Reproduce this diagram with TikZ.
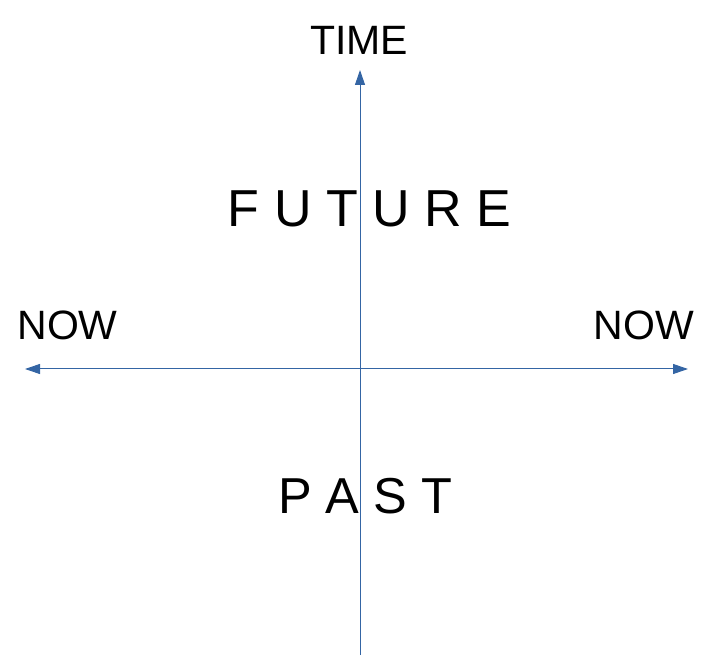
\documentclass[tikz,border=0pt]{standalone}
\usepackage{fontspec}
\setmainfont{Liberation Sans}
\usetikzlibrary{arrows.meta}
\definecolor{axisblue}{RGB}{52,101,164}
\tikzset{
  axis/.style={draw=axisblue, line width=1pt, -{Triangle[length=15pt,width=10pt]}},
  biaxis/.style={draw=axisblue, line width=1pt, {Triangle[length=15pt,width=10pt]}-{Triangle[length=15pt,width=10pt]}},
  small/.style={anchor=base, inner sep=0pt, font=\fontsize{41pt}{41pt}\selectfont},
  big/.style={anchor=base, inner sep=0pt, font=\fontsize{52pt}{52pt}\selectfont},
  mid/.style={anchor=base, inner sep=0pt, font=\fontsize{50.5pt}{50.5pt}\selectfont},
}
\begin{document}
\begin{tikzpicture}[x=1pt,y=1pt]
  \useasboundingbox (0,0) rectangle (709,670);
  \coordinate (vbot) at (360,15);
  \coordinate (vtop) at (360,600);
  \coordinate (hl) at (25,301);
  \coordinate (hr) at (688,301);
  \draw[axis] (vbot) -- (vtop);
  \draw[biaxis] (hl) -- (hr);
  \node[small] (time) at (359,615) {TIME};
  \node[small] (nowl) at (67.5,330) {NOW};
  \node[small] (nowr) at (644,330) {NOW};
  \node[big] (future) at (369.5,443) {F U T U R E};
  \node[mid] (past) at (365,157) {P A S T};
\end{tikzpicture}
\end{document}
